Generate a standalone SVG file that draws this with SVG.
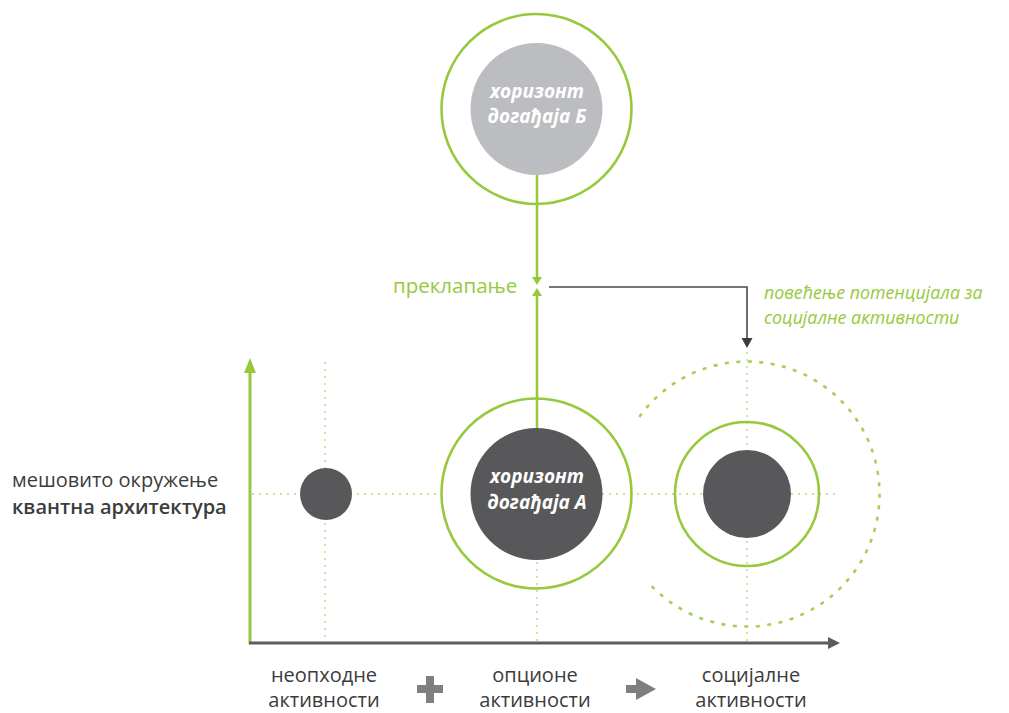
<svg xmlns="http://www.w3.org/2000/svg" width="1009" height="713" viewBox="0 0 1009 713">
  <style>
    .ring { fill: none; stroke: #97c93d; stroke-width: 2.6; }
    .dark { fill: #58585a; }
    .light { fill: #bcbdc0; }
    .dot { fill: none; stroke: #b9d77a; stroke-width: 1.3; stroke-dasharray: 2 5; }
    .dash { fill: none; stroke: #a5cf55; stroke-width: 2.6; stroke-dasharray: 4 7.5; }
    .glabel { font-family: "Open Sans", "Liberation Sans", sans-serif; fill: #97c93d; }
    .inner { font-family: "Open Sans", "Liberation Sans", sans-serif; font-weight: bold; font-style: italic; font-size: 19px; fill: #ffffff; text-anchor: middle; }
    .body { font-family: "Open Sans", "Liberation Sans", sans-serif; font-size: 20px; fill: #3c3c3c; }
    .mid { text-anchor: middle; }
    .green { fill: #97c93d; }
    .grey { fill: #5c5c5c; }
  </style>

  <rect width="1009" height="713" fill="#ffffff"/>

  <!-- dotted guide lines -->
  <g id="guides">
    <line class="dot" x1="252" y1="494" x2="441" y2="494"/>
    <line class="dot" x1="602" y1="494" x2="838" y2="494"/>
    <line class="dot" x1="325" y1="362" x2="325" y2="642"/>
    <line class="dot" x1="537" y1="562" x2="537" y2="642"/>
    <line class="dot" x1="747" y1="352" x2="747" y2="642"/>
  </g>

  <!-- axes -->
  <g id="axes">
    <line x1="250" y1="644" x2="250" y2="372" stroke="#97c93d" stroke-width="3"/>
    <polygon class="green" points="244,373 256,373 250,358"/>
    <line x1="249" y1="643" x2="829" y2="643" stroke="#5c5c5c" stroke-width="3"/>
    <polygon class="grey" points="828,637 828,649 840,643"/>
  </g>

  <!-- connectors -->
  <g id="connectors">
    <line x1="537" y1="175" x2="537" y2="278" stroke="#97c93d" stroke-width="2.6"/>
    <polygon class="green" points="532,277 542,277 537,285"/>
    <line x1="537" y1="428" x2="537" y2="295" stroke="#97c93d" stroke-width="2.6"/>
    <polygon class="green" points="532,296 542,296 537,288"/>
    <polyline points="549,287 747,287 747,339" fill="none" stroke="#4a4a4a" stroke-width="1.6"/>
    <polygon fill="#3c3c3c" points="741.5,338 752.5,338 747,348"/>
  </g>

  <!-- event horizon B -->
  <g id="node-b">
    <circle class="ring" cx="536.5" cy="109" r="95"/>
    <circle class="light" cx="536.5" cy="109" r="66"/>
    <text class="inner" x="537" y="98">хоризонт</text>
    <text class="inner" x="537" y="123">догађаја Б</text>
  </g>

  <!-- overlap label -->
  <g id="overlap">
    <text class="glabel" x="393" y="293" font-size="20.5">преклапање</text>
  </g>

  <!-- potential label -->
  <g id="potential">
    <text class="glabel" x="764" y="299" font-size="17.8" font-style="italic">повећење потенцијала за</text>
    <text class="glabel" x="764" y="324" font-size="17.8" font-style="italic">социјалне активности</text>
  </g>

  <!-- necessary activities point -->
  <g id="node-small">
    <circle class="dark" cx="326" cy="494" r="26"/>
  </g>

  <!-- event horizon A -->
  <g id="node-a">
    <circle class="ring" cx="536.5" cy="493.5" r="95"/>
    <circle class="dark" cx="536.5" cy="494" r="66"/>
    <text class="inner" x="537" y="483">хоризонт</text>
    <text class="inner" x="537" y="509">догађаја А</text>
  </g>

  <!-- social activities -->
  <g id="node-c">
    <path class="dash" d="M639.3,416.9 A132.5,132.5 0 1 1 650.4,584.7"/>
    <circle class="ring" cx="747" cy="494" r="72"/>
    <circle class="dark" cx="747" cy="494" r="44"/>
  </g>

  <!-- side label -->
  <g id="side-label">
    <text class="body" x="12" y="487" font-size="20.7">мешовито окружење</text>
    <text class="body" x="12" y="514" font-size="20" font-weight="600">квантна архитектура</text>
  </g>

  <!-- bottom labels -->
  <g id="bottom-labels">
    <text class="body mid" x="324" y="682">неопходне</text>
    <text class="body mid" x="324" y="707">активности</text>
    <text class="body mid" x="535" y="682">опционе</text>
    <text class="body mid" x="535" y="707">активности</text>
    <text class="body mid" x="751" y="682">социјалне</text>
    <text class="body mid" x="751" y="707">активности</text>
    <path fill="#7f7f7f" d="M426,676 h8 v9 h9 v8 h-9 v10 h-8 v-10 h-9 v-8 h9 z"/>
    <path fill="#7f7f7f" d="M626,685 h10 v-7 l20,11 l-20,11 v-7 h-10 z"/>
  </g>
</svg>
